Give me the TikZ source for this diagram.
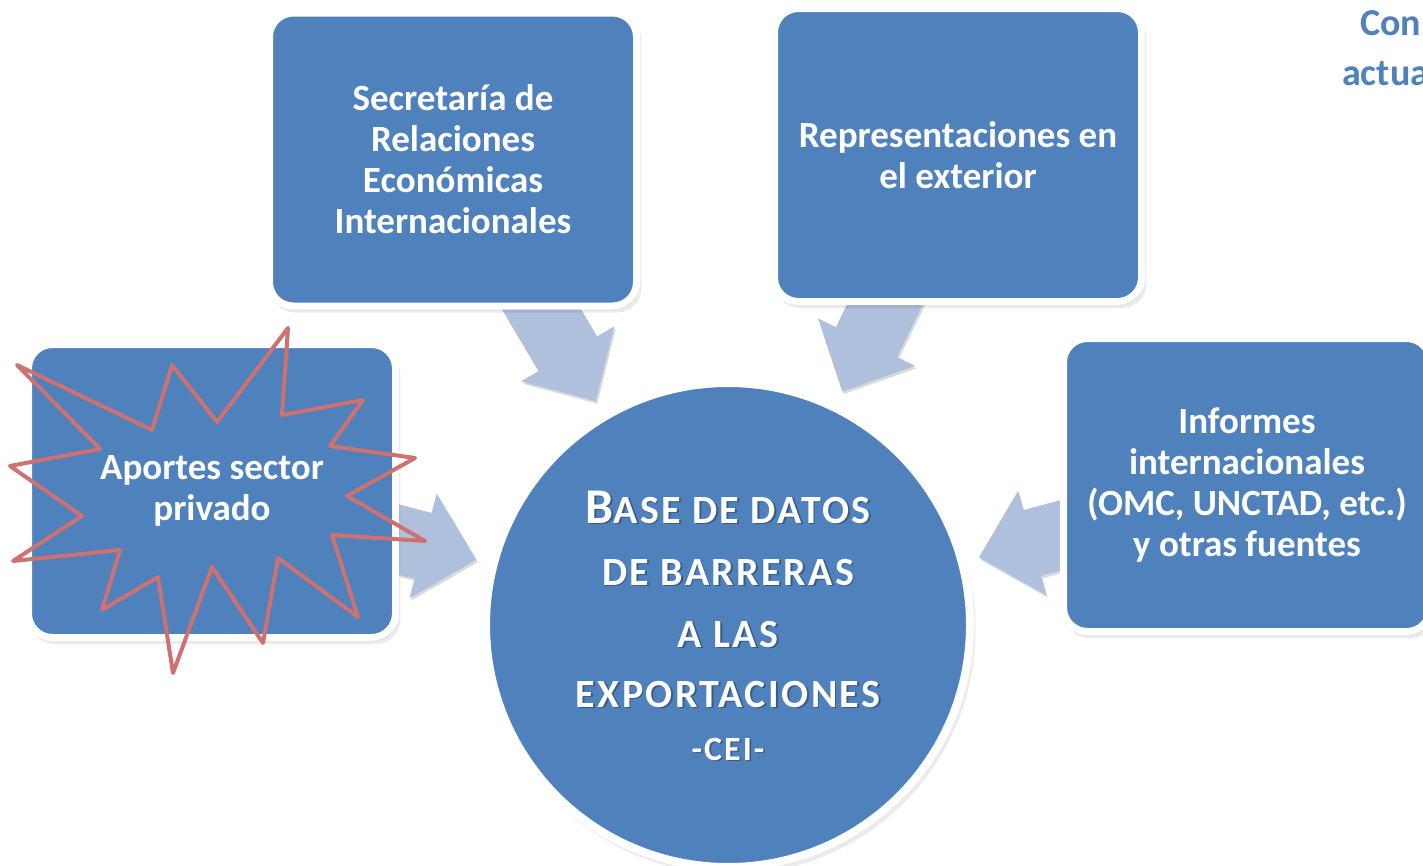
\documentclass[tikz,border=0pt]{standalone}
\usepackage{fontspec}
\setmainfont{Carlito}
\newfontfamily\capsfont[LetterSpace=6]{Carlito}
\usetikzlibrary{calc,shadows}
\definecolor{mblue}{RGB}{79,129,189}
\definecolor{arrowc}{RGB}{175,192,221}
\definecolor{starc}{RGB}{205,114,112}
\definecolor{tshad}{RGB}{40,60,90}
\pgfdeclarelayer{background}
\pgfsetlayers{background,main}
\tikzset{
  boxshadow/.style={
    general shadow={shadow xshift=3pt,shadow yshift=-5pt,shadow scale=1.01,opacity=0.08,fill=black},
    general shadow={shadow xshift=2pt,shadow yshift=-3.5pt,opacity=0.14,fill=black},
    general shadow={shadow xshift=1pt,shadow yshift=-2pt,opacity=0.14,fill=black}},
  srcbox/.style={rectangle,rounded corners=24pt,fill=mblue,draw=white,line width=7pt,
    minimum width=367pt,minimum height=293pt,inner sep=0pt,align=center,text=white,
    font=\bfseries\fontsize{37}{41}\selectfont,boxshadow},
  circbox/.style={circle,fill=mblue,draw=white,line width=8pt,minimum size=484pt,inner sep=0pt,boxshadow},
  arrowfill/.style={fill=arrowc,drop shadow={shadow xshift=1.5pt,shadow yshift=-2.5pt,opacity=0.15,fill=black}},
  starline/.style={draw=starc,line width=4pt,line join=round},
  ctxt/.style={anchor=base,inner sep=0pt,text=white,font=\capsfont\bfseries},
  ctxtsh/.style={anchor=base,inner sep=0pt,text=tshad,opacity=0.55,font=\capsfont\bfseries},
  toptxt/.style={anchor=base west,inner sep=0pt,text=mblue,font=\bfseries\fontsize{38}{45}\selectfont}
}
\newcommand{\blockarrow}[2]{%
  \path ($(#2.center)!260pt!(#1.center)$) coordinate (ba-tip);
  \path ($(ba-tip)!55pt!(#1.center)$) coordinate (ba-hb);
  \fill[arrowfill]
    ($(#1.center)!34pt!90:(ba-tip)$) --
    ($(ba-hb)!34pt!90:(ba-tip)$) --
    ($(ba-hb)!54pt!90:(ba-tip)$) --
    (ba-tip) --
    ($(ba-hb)!54pt!-90:(ba-tip)$) --
    ($(ba-hb)!34pt!-90:(ba-tip)$) --
    ($(#1.center)!34pt!-90:(ba-tip)$) -- cycle;
}
\newcommand{\ctext}[3]{%
  \node[ctxtsh] (#1s) at ($(c.center)+(1.8,#2+1.8)$) {#3};
  \node[ctxt] (#1) at ($(c.center)+(0,#2)$) {#3};
}
\newcommand{\bigsz}{\fontsize{50}{60}\selectfont}
\newcommand{\smcsz}{\fontsize{40}{48}\selectfont}
\begin{document}
\begin{tikzpicture}[x=1pt,y=-1pt]
\useasboundingbox (0,0) rectangle (1423,865);
\clip (0,0) rectangle (1423,865);

% text top right (cut off)
\node[toptxt] (con) at (1360,35) {Con};
\node[toptxt] (act) at (1342,85) {actua};

% circle
\node[circbox] (c) at (728,625) {};

% source boxes
\node[srcbox] (tl) at (453,159.5) {Secretaría de\\Relaciones\\Económicas\\Internacionales};
\node[srcbox] (tr) at (958,155) {Representaciones en\\el exterior};
\node[srcbox] (lb) at (212,491) {Aportes sector\\privado};
\node[srcbox] (rb) at (1247,485) {Informes\\internacionales\\(OMC, UNCTAD, etc.)\\y otras fuentes};

% arrows behind
\begin{pgfonlayer}{background}
\fill[white] (0,0) rectangle (1423,865);
\blockarrow{tl}{c}
\blockarrow{tr}{c}
\blockarrow{lb}{c}
\blockarrow{rb}{c}
\end{pgfonlayer}

% circle text
\ctext{l1}{-102}{{\bigsz B}{\smcsz ASE DE DATOS}}
\ctext{l2}{-40}{\smcsz DE BARRERAS}
\ctext{l3}{22}{\smcsz A LAS}
\ctext{l4}{82}{\smcsz EXPORTACIONES}
\ctext{l5}{135}{\fontsize{34}{40}\selectfont -CEI-}

% explosion star
\draw[starline] (288,328) -- (282,415) -- (363,400) -- (330,446) -- (415,458) -- (347,496)
  -- (425,541) -- (332,535) -- (358,617) -- (278,558) -- (263,643) -- (212,567)
  -- (173,673) -- (158,577) -- (102,610) -- (120,550) -- (13,561) -- (82,516)
  -- (10,466) -- (100,449) -- (17,365) -- (152,430) -- (172,365) -- (217,422) -- cycle;
\end{tikzpicture}
\end{document}
